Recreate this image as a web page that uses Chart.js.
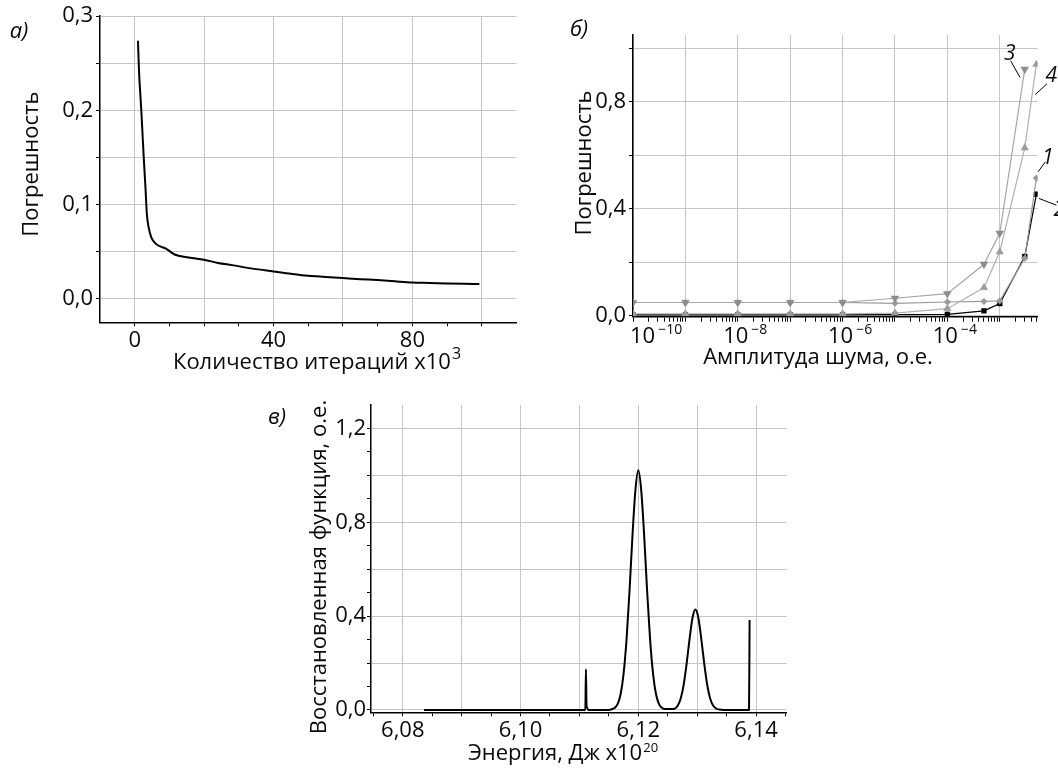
<!DOCTYPE html>
<html><head><meta charset="utf-8">
<script src="https://cdn.jsdelivr.net/npm/chart.js@4.4.1/dist/chart.umd.min.js"></script>
<style>
html,body{margin:0;padding:0;background:#fff;}
body{width:1058px;height:770px;position:relative;overflow:hidden;}
canvas{position:absolute;}
</style></head><body>
<canvas id="ca" width="530" height="385" style="left:0;top:0"></canvas>
<canvas id="cb" width="538" height="385" style="left:520px;top:0"></canvas>
<canvas id="cc" width="570" height="385" style="left:250px;top:385px"></canvas>
<script>
// ---------- Panel а: error vs iterations ----------
const iterations = [0.95,1.2,1.9,2.6,3.1,3.5,4.0,4.8,6.2,9.1,11.5,15,20,24,28,34,40,45,50,55,60,65,70,75,80,85,90,95,99.3];
const iterError  = [0.274,0.245,0.200,0.150,0.118,0.090,0.076,0.065,0.058,0.053,0.047,0.044,0.0414,0.038,0.0357,0.032,0.029,0.0265,0.0244,0.0232,0.022,0.0208,0.0198,0.0185,0.0173,0.0168,0.0162,0.0158,0.0156];
const aXTicks  = [0,10,20,30,40,50,60,70,80,90,100];
const aXGrid   = [0,20,40,60,80,100];
const aXLabels = [0,40,80];
const aYTicks  = [0,0.05,0.1,0.15,0.2,0.25,0.3];
const aYLabels = [0,0.1,0.2,0.3];

// ---------- Panel б: error vs noise amplitude ----------
const noiseAmp = [1e-10,1e-9,1e-8,1e-7,1e-6,1e-5,1e-4,5e-4,1e-3,3e-3,5e-3];
const err1 = [0.050,0.050,0.050,0.050,0.050,0.047,0.052,0.054,0.056,0.215,0.515];
const err2 = [0.004,0.004,0.004,0.004,0.004,0.005,0.006,0.019,0.046,0.222,0.455];
const err3 = [0.050,0.050,0.050,0.050,0.050,0.066,0.083,0.193,0.309,0.922,null];
const err4 = [0.008,0.008,0.008,0.008,0.008,0.010,0.027,0.106,0.239,0.628,0.940];
const seriesNames = ['1','2','3','4'];
const bXDecades  = [1e-10,1e-9,1e-8,1e-7,1e-6,1e-5,1e-4,1e-3];
const bXLabelVals = [1e-10,1e-8,1e-6,1e-4];
const bXLabelExp  = ['\u221210','\u22128','\u22126','\u22124'];
const bYTicks  = [0,0.2,0.4,0.6,0.8,1.0];
const bYLabels = [0,0.4,0.8];

// ---------- Panel в: recovered function vs energy ----------
const energy = [6.0836,6.1110,6.1111,6.1112,6.1113,6.1115,6.1150,
  6.1155,6.1160,6.1165,6.1170,6.1175,6.1180,6.1185,6.1190,6.1195,6.1200,
  6.1205,6.1210,6.1215,6.1220,6.1225,6.1230,6.1235,6.1240,6.1245,6.1250,
  6.1257,6.1262,6.1267,6.1272,6.1277,6.1282,6.1287,6.1292,6.1297,6.1302,
  6.1307,6.1312,6.1317,6.1322,6.1327,6.1332,6.1337,6.1345,6.1388,6.1389];
const recovered = [0,0,0.173,0.025,0.010,0,0,
  0.003,0.009,0.026,0.068,0.155,0.300,0.505,0.740,0.935,1.022,
  0.935,0.740,0.505,0.300,0.155,0.068,0.026,0.009,0.004,0.004,
  0.004,0.006,0.019,0.049,0.107,0.196,0.302,0.392,0.428,0.392,
  0.302,0.196,0.107,0.049,0.019,0.006,0.002,0,0,0.383];
const cXTicks  = [6.075,6.08,6.085,6.09,6.095,6.10,6.105,6.11,6.115,6.12,6.125,6.13,6.135,6.14,6.145];
const cXGrid   = [6.08,6.09,6.10,6.11,6.12,6.13,6.14];
const cXLabels = [6.08,6.10,6.12,6.14];
const cYTicks  = [0,0.1,0.2,0.3,0.4,0.5,0.6,0.7,0.8,0.9,1.0,1.1,1.2];
const cYGrid   = [0,0.2,0.4,0.6,0.8,1.0,1.2];
const cYLabels = [0,0.4,0.8,1.2];

// ---------- helpers ----------
const FONT = "'Open Sans', 'DejaVu Sans', sans-serif";
const WEIGHT = 500;
const GRID = '#c6c6c6';
const INK = '#0a0a0a';
const near = (arr, v) => arr.some(a => Math.abs(a - v) <= Math.abs(a) * 1e-9 + 1e-12);
const comma = (v, d) => v.toFixed(d).replace('.', ',');
const setTicks = list => s => { s.ticks = list.map(v => ({ value: v })); };
const tickFont = { family: FONT, size: 22, weight: WEIGHT };

function drawLabel(ctx, it, x, y) {
  ctx.save();
  ctx.translate(x, y);
  if (it.rot) ctx.rotate(it.rot * Math.PI / 180);
  const size = it.size || 22;
  const baseFont = (it.italic ? 'italic ' : '') + WEIGHT + ' ' + size + 'px ' + FONT;
  ctx.font = baseFont;
  const w = ctx.measureText(it.text).width;
  let sw = 0, supFont = null;
  if (it.sup) {
    supFont = WEIGHT + ' ' + (it.supSize || 14) + 'px ' + FONT;
    ctx.font = supFont;
    sw = ctx.measureText(it.sup).width + (it.supGap || 1);
  }
  const x0 = -(w + sw) / 2;
  const baseY = 0.357 * size;
  ctx.fillStyle = INK;
  ctx.textAlign = 'left';
  ctx.textBaseline = 'alphabetic';
  ctx.font = baseFont;
  ctx.fillText(it.text, x0, baseY);
  if (it.sup) {
    ctx.font = supFont;
    ctx.fillText(it.sup, x0 + w + (it.supGap || 1), baseY - it.supRaise);
  }
  ctx.restore();
}

const textPlugin = {
  id: 'pageText',
  afterDraw(chart, args, opts) {
    const ctx = chart.ctx, ca = chart.chartArea;
    (opts.items || []).forEach(it => drawLabel(ctx, it, ca.left + it.dx, ca.top + it.dy));
    (opts.seriesTags || []).forEach(tag => {
      const meta = chart.getDatasetMeta(tag.dataset);
      let el = null;
      for (let i = meta.data.length - 1; i >= 0; i--) {
        const p = meta.data[i];
        if (p && !p.skip && isFinite(p.y)) { el = p; break; }
      }
      if (!el) return;
      ctx.save();
      ctx.strokeStyle = '#000'; ctx.lineWidth = 1;
      ctx.beginPath();
      ctx.moveTo(el.x + tag.lead[0], el.y + tag.lead[1]);
      ctx.lineTo(el.x + tag.lead[2], el.y + tag.lead[3]);
      ctx.stroke();
      ctx.restore();
      drawLabel(ctx, { text: chart.data.datasets[tag.dataset].label, size: 21, italic: true }, el.x + tag.dx, el.y + tag.dy);
    });
    if (opts.logLabels) {
      const sx = chart.scales.x;
      ctx.save();
      ctx.fillStyle = INK;
      ctx.textBaseline = 'alphabetic';
      ctx.textAlign = 'left';
      opts.logLabels.values.forEach((v, i) => {
        const px = sx.getPixelForValue(v);
        ctx.font = WEIGHT + ' 22px ' + FONT;
        const w = ctx.measureText('10').width;
        let left = px - w / 2 - 2;
        if (left < ca.left - 3) left = ca.left - 3;
        const base = ca.bottom + 18 + 0.357 * 22;
        ctx.fillText('10', left, base);
        ctx.font = WEIGHT + ' 14px ' + FONT;
        ctx.fillText(opts.logLabels.exps[i], left + w + 3, base - 8.5);
      });
      ctx.restore();
    }
  }
};

function axisCommon(extra) {
  return Object.assign({
    border: { display: true, color: '#000', width: 1.5 }
  }, extra);
}

const baseOpts = (padding, plugins, scales) => ({
  responsive: false, animation: false, devicePixelRatio: 1, events: [],
  layout: { padding },
  plugins: Object.assign({ legend: { display: false }, tooltip: { enabled: false } }, plugins),
  scales
});

// ---------- Chart а ----------
new Chart(document.getElementById('ca'), {
  type: 'line',
  data: { datasets: [{
    data: iterations.map((x, i) => ({ x, y: iterError[i] })),
    borderColor: '#000', borderWidth: 2, pointRadius: 0, fill: false,
    cubicInterpolationMode: 'monotone'
  }] },
  options: baseOpts({ left: 0, top: 15, right: 13.5, bottom: 0 }, {
    pageText: { items: [
      { text: 'а)', italic: true, size: 22, dx: -81, dy: 14 },
      { text: 'Погрешность', rot: -90, size: 22, dx: -70, dy: 148 },
      { text: 'Количество итераций x10', sup: '3', supSize: 16, supRaise: 10, supGap: 1, size: 22, dx: 217, dy: 345 }
    ] }
  }, {
    x: axisCommon({
      type: 'linear', min: -10, max: 110,
      afterBuildTicks: setTicks(aXTicks),
      afterFit: s => { s.height = 62.7; },
      grid: { color: c => near(aXGrid, c.tick.value) ? GRID : 'rgba(0,0,0,0)', tickColor: '#000', tickLength: 4, lineWidth: 1 },
      ticks: { autoSkip: false, maxRotation: 0, color: INK, font: tickFont, padding: 1,
        callback: v => near(aXLabels, v) ? String(v) : '' }
    }),
    y: axisCommon({
      type: 'linear', min: -0.025, max: 0.3,
      afterBuildTicks: setTicks(aYTicks),
      afterFit: s => { s.width = 100; },
      grid: { color: GRID, tickColor: '#000', tickLength: 4, lineWidth: 1 },
      ticks: { autoSkip: false, color: INK, font: tickFont, padding: 3,
        callback: v => near(aYLabels, v) ? comma(v, 1) : '' }
    })
  }),
  plugins: [textPlugin]
});

// ---------- Chart б ----------
const mk = (arr) => noiseAmp.map((x, i) => ({ x, y: arr[i] }));
new Chart(document.getElementById('cb'), {
  type: 'line',
  data: { datasets: [
    { label: seriesNames[0], data: mk(err1), order: 2, borderColor: '#9a9a9a', borderWidth: 1.2,
      pointStyle: 'rectRot', pointRadius: 3.3, pointBackgroundColor: '#9a9a9a', pointBorderColor: '#9a9a9a', pointBorderWidth: 0.5 },
    { label: seriesNames[1], data: mk(err2), order: 3, borderColor: '#000', borderWidth: 1.2,
      pointStyle: 'rect', pointRadius: 3.4, pointBackgroundColor: '#000', pointBorderColor: '#000', pointBorderWidth: 0.5 },
    { label: seriesNames[2], data: mk(err3), order: 0, borderColor: '#a6a6a6', borderWidth: 1.2,
      pointStyle: 'triangle', pointRotation: 180, pointRadius: 4.5, pointBackgroundColor: '#8c8c8c', pointBorderColor: '#8c8c8c', pointBorderWidth: 0.5 },
    { label: seriesNames[3], data: mk(err4), order: 1, borderColor: '#b0b0b0', borderWidth: 1.2,
      pointStyle: 'triangle', pointRadius: 4.3, pointBackgroundColor: '#9c9c9c', pointBorderColor: '#9c9c9c', pointBorderWidth: 0.5 }
  ] },
  options: baseOpts({ left: 0, top: 35, right: 20.3, bottom: 0 }, {
    pageText: {
      items: [
        { text: 'б)', italic: true, size: 22, dx: -54, dy: -7 },
        { text: 'Погрешность', rot: -90, size: 22, dx: -50, dy: 128 },
        { text: 'Амплитуда шума, о.е.', size: 22, dx: 185, dy: 321 }
      ],
      seriesTags: [
        { dataset: 2, dx: -15, dy: -17, lead: [-14, -8.3, -4.7, 8.3] },
        { dataset: 3, dx: 15, dy: 10, lead: [10.7, 19.3, -1, 30] },
        { dataset: 0, dx: 11.5, dy: -21.3, lead: [9, -16.3, 1.7, -6.3] },
        { dataset: 1, dx: 23, dy: 14, lead: [2.7, 4.3, 20, 11] }
      ],
      logLabels: { values: bXLabelVals, exps: bXLabelExp }
    }
  }, {
    x: axisCommon({
      type: 'logarithmic', min: 1e-10, max: 5.3e-3,
      afterBuildTicks: s => {
        const t = [];
        bXDecades.forEach(d => { for (let m = 1; m <= 9; m++) { const v = m * d; if (v <= 5.3e-3) t.push({ value: v }); } });
        s.ticks = t;
      },
      afterFit: s => { s.height = 68.3; },
      grid: { color: c => near(bXDecades, c.tick.value) ? GRID : 'rgba(0,0,0,0)', tickColor: '#000', tickLength: 5, lineWidth: 1 },
      ticks: { autoSkip: false, maxRotation: 0, color: INK, font: tickFont, callback: () => '' }
    }),
    y: axisCommon({
      type: 'linear', min: -0.003, max: 1.05,
      afterBuildTicks: setTicks(bYTicks),
      afterFit: s => { s.width = 113; },
      grid: { color: GRID, tickColor: '#000', tickLength: 4, lineWidth: 1 },
      ticks: { autoSkip: false, color: INK, font: tickFont, padding: 3,
        callback: v => near(bYLabels, v) ? comma(v, 1) : '' }
    })
  }),
  plugins: [textPlugin]
});

// ---------- Chart в ----------
new Chart(document.getElementById('cc'), {
  type: 'line',
  data: { datasets: [{
    data: energy.map((x, i) => ({ x, y: recovered[i] })),
    borderColor: '#000', borderWidth: 2, pointRadius: 0, fill: false,
    cubicInterpolationMode: 'monotone', borderJoinStyle: 'round'
  }] },
  options: baseOpts({ left: 0, top: 20, right: 33.3, bottom: 0 }, {
    pageText: { items: [
      { text: 'в)', italic: true, size: 22, dx: -94, dy: 11 },
      { text: 'Восстановленная функция, о.е.', rot: -90, size: 22, dx: -53, dy: 162 },
      { text: 'Энергия, Дж x10', sup: '20', supSize: 13, supRaise: 8, supGap: 1, size: 22, dx: 192, dy: 347 }
    ] }
  }, {
    x: axisCommon({
      type: 'linear', min: 6.0746, max: 6.1452,
      afterBuildTicks: setTicks(cXTicks),
      afterFit: s => { s.height = 57.7; },
      grid: { color: c => near(cXGrid, c.tick.value) ? GRID : 'rgba(0,0,0,0)', tickColor: '#000', tickLength: 4, lineWidth: 1 },
      ticks: { autoSkip: false, maxRotation: 0, color: INK, font: tickFont, padding: 1,
        callback: v => near(cXLabels, v) ? comma(v, 2) : '' }
    }),
    y: axisCommon({
      type: 'linear', min: -0.01, max: 1.3,
      afterBuildTicks: setTicks(cYTicks),
      afterFit: s => { s.width = 121; },
      grid: { color: c => near(cYGrid, c.tick.value) ? GRID : 'rgba(0,0,0,0)', tickColor: '#000', tickLength: 4, lineWidth: 1 },
      ticks: { autoSkip: false, color: INK, font: tickFont, padding: 1,
        callback: v => near(cYLabels, v) ? comma(v, 1) : '' }
    })
  }),
  plugins: [textPlugin]
});
</script>
</body></html>
